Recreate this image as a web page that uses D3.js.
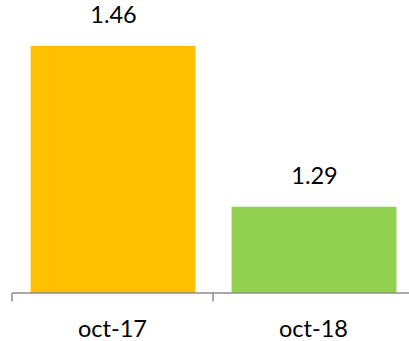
<!DOCTYPE html>
<html>
<head>
<meta charset="utf-8">
<script src="https://cdn.jsdelivr.net/npm/d3@7/dist/d3.min.js"></script>
<style>
  html, body { margin: 0; padding: 0; background: #fff; }
  svg { display: block; }
</style>
</head>
<body>
<svg id="chart" width="409" height="341"></svg>
<script>
// Monthly values, October of each year
const categories = ["oct-17", "oct-18"];
const values = [1.46, 1.29];
const valueLabels = ["1.46", "1.29"];
const barColors = ["#FFC000", "#92D050"];

const svg = d3.select("#chart");
const W = 409, H = 341;
const font = "Lato, 'Open Sans', sans-serif";

// Category slots span from the first tick to the last tick of the axis
const x = d3.scaleBand().domain(categories).range([12, 414]).padding(0);
const barFrac = 0.82;

// Value axis starts above zero, as in the source spreadsheet chart
const y = d3.scaleLinear().domain([1.2, 1.5]).range([292, 8]);

const data = categories.map((c, i) => ({ cat: c, v: values[i], label: valueLabels[i], color: barColors[i] }));

// Bars
svg.append("g").selectAll("rect").data(data).join("rect")
  .attr("x", d => x(d.cat) + x.bandwidth() * (1 - barFrac) / 2 + 0.5)
  .attr("width", x.bandwidth() * barFrac)
  .attr("y", d => y(d.v))
  .attr("height", d => y.range()[0] - y(d.v) + 1)
  .attr("fill", d => d.color);

// Value labels above bars
svg.append("g").selectAll("text").data(data).join("text")
  .attr("x", d => x(d.cat) + x.bandwidth() / 2 + 1)
  .attr("y", d => y(d.v) - 22.5)
  .attr("text-anchor", "middle")
  .attr("font-family", font)
  .attr("font-size", 23.5)
  .attr("fill", "#000")
  .text(d => d.label);

// Category axis with ticks between categories
const axis = svg.append("g").attr("transform", "translate(0,293)")
  .call(d3.axisBottom(x).tickSize(0).tickPadding(0).tickFormat(""));
axis.select(".domain").remove();
axis.selectAll(".tick").remove();

axis.append("line")
  .attr("x1", x.range()[0]).attr("x2", x.range()[1])
  .attr("y1", 0).attr("y2", 0)
  .attr("stroke", "#8c8c8c").attr("stroke-width", 1.5);

const boundaries = categories.map(c => x(c)).concat([x.range()[1]]);
axis.selectAll("line.sep").data(boundaries).join("line")
  .attr("class", "sep")
  .attr("x1", d => d).attr("x2", d => d)
  .attr("y1", 0).attr("y2", 8.5)
  .attr("stroke", "#8c8c8c").attr("stroke-width", 1.5);

axis.selectAll("text.cat").data(categories).join("text")
  .attr("class", "cat")
  .attr("x", d => x(d) + x.bandwidth() / 2)
  .attr("y", 43.5)
  .attr("text-anchor", "middle")
  .attr("font-family", font)
  .attr("font-size", 23.5)
  .attr("fill", "#000")
  .text(d => d);
</script>
</body>
</html>
